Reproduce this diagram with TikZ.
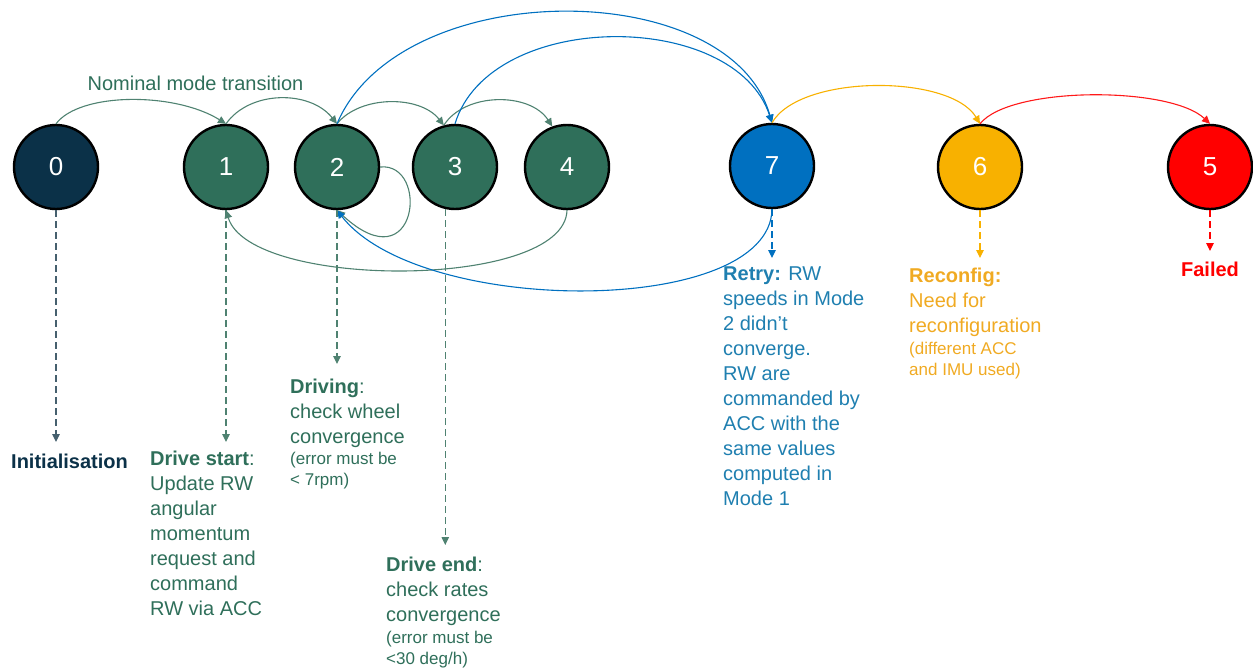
\documentclass[tikz,border=0pt]{standalone}
\usepackage{fontspec}
\setmainfont{Liberation Sans}
\usetikzlibrary{arrows.meta}

\definecolor{navy}{HTML}{0B3148}
\definecolor{navyline}{HTML}{46606E}
\definecolor{modegreen}{HTML}{2F6F5A}
\definecolor{greenline}{HTML}{4F8271}
\definecolor{retryblue}{HTML}{0070C0}
\definecolor{retrytext}{HTML}{1F7FB0}
\definecolor{amber}{HTML}{F8B100}
\definecolor{ambertext}{HTML}{F0AA22}
\definecolor{failred}{HTML}{FF0000}

\begin{document}
\begin{tikzpicture}[x=1pt,y=-1pt,
  state/.style={circle, draw=black, line width=2.4pt, minimum size=84pt,
    inner sep=0pt, text=white, font=\fontsize{26}{30}\selectfont},
  flow/.style={line width=1.1pt, -{Triangle[length=8pt,width=7.5pt]}},
  drop/.style={line width=1.1pt, dash pattern=on 7pt off 4pt,
    -{Triangle[length=8pt,width=7.5pt]}},
  desc/.style={anchor=north west, inner sep=0pt, align=left,
    font=\fontsize{20}{24.9}\selectfont},
  note/.style={anchor=north west, inner sep=0pt, align=left,
    font=\fontsize{17}{21}\selectfont},
]
\useasboundingbox (0,0) rectangle (1253,669);

% mode circles
\node[state, fill=navy]       (n0) at (56,167)   {0};
\node[state, fill=modegreen]  (n1) at (226,167)  {1};
\node[state, fill=modegreen]  (n2) at (337,167)  {2};
\node[state, fill=modegreen]  (n3) at (455,167)  {3};
\node[state, fill=modegreen]  (n4) at (567,167)  {4};
\node[state, fill=retryblue]  (n7) at (772,166)  {7};
\node[state, fill=amber]      (n6) at (980,167)  {6};
\node[state, fill=failred]    (n5) at (1210,167) {5};

% nominal transitions
\node[text=modegreen, font=\fontsize{20}{24}\selectfont, anchor=base, inner sep=0pt]
  (nominal) at (195.5,90) {Nominal mode transition};
\draw[flow, greenline] (n0.north) .. controls (80,92) and (175,92) .. (n1.north);
\draw[flow, greenline] (n1.north) .. controls (250,90) and (310,90) .. (n2.north);
\draw[flow, greenline] (n2.north) .. controls (360,95) and (420,95) .. (n3.105);
\draw[flow, greenline] (n3.105) .. controls (465,92) and (530,92) .. (n4.110);

% backward and self transitions
\draw[flow, greenline] (n2.east) .. controls (430,162) and (418,285) .. (n2.south);
\draw[flow, greenline] (n4.south) .. controls (565,290) and (250,290) .. (n1.south);

% retry transitions
\draw[flow, retryblue] (n2.north) .. controls (400,-25) and (730,-25) .. (n7.north);
\draw[flow, retryblue] (n3.north) .. controls (490,9) and (735,9) .. (n7.north);
\draw[flow, retryblue] (n7.south) .. controls (770,317) and (420,317) .. (n2.south);

% degraded transitions
\draw[flow, amber] (n7.north) .. controls (800,74) and (950,74) .. (n6.north);
\draw[flow, failred!90!white] (n6.north) .. controls (1010,86) and (1170,86) .. (n5.north);

% description pointers
\coordinate (d0) at (56,442);
\coordinate (d1) at (226,442);
\coordinate (d2) at (337,364);
\coordinate (d3) at (445,545);
\coordinate (d7) at (772,258);
\coordinate (d6) at (980,258);
\coordinate (d5) at (1210,251);
\draw[drop, navyline] (n0.south) -- (d0);
\draw[drop, greenline] (n1.south) -- (d1);
\draw[drop, greenline] (n2.south) -- (d2);
\draw[drop, greenline] (n3.-103) -- (n3.-103 |- d3);
\draw[drop, retryblue] (n7.south) -- (d7);
\draw[drop, amber] (n6.south) -- (d6);
\draw[drop, failred] (n5.south) -- (d5);

% descriptions
\node[desc, text=navy] (t0) at (11,454) {\textbf{Initialisation}};
\node[desc, text=modegreen] (t1) at (150,451)
  {\textbf{Drive start}:\\Update RW\\angular\\momentum\\request and\\command\\RW via ACC};
\node[desc, text=modegreen] (t2) at (290,379)
  {\textbf{Driving}:\\check wheel\\convergence};
\node[note, text=modegreen] (t2n) at (290,452) {(error must be\\< 7rpm)};
\node[desc, text=modegreen] (t3) at (386,557)
  {\textbf{Drive end}:\\check rates\\convergence};
\node[note, text=modegreen] (t3n) at (386,631) {(error must be\\<30 deg/h)};
\node[desc, text=retrytext] (t7) at (723,267)
  {\textbf{Retry:} RW\\speeds in Mode\\2 didn’t\\converge.\\RW are\\commanded by\\ACC with the\\same values\\computed in\\Mode 1};
\node[desc, text=ambertext] (t6) at (909,268)
  {\textbf{Reconfig:}\\Need for\\reconfiguration};
\node[note, text=ambertext] (t6n) at (909,342) {(different ACC\\and IMU used)};
\node[desc, text=failred, anchor=north] (t5) at (1210,262) {\textbf{Failed}};
\end{tikzpicture}
\end{document}
